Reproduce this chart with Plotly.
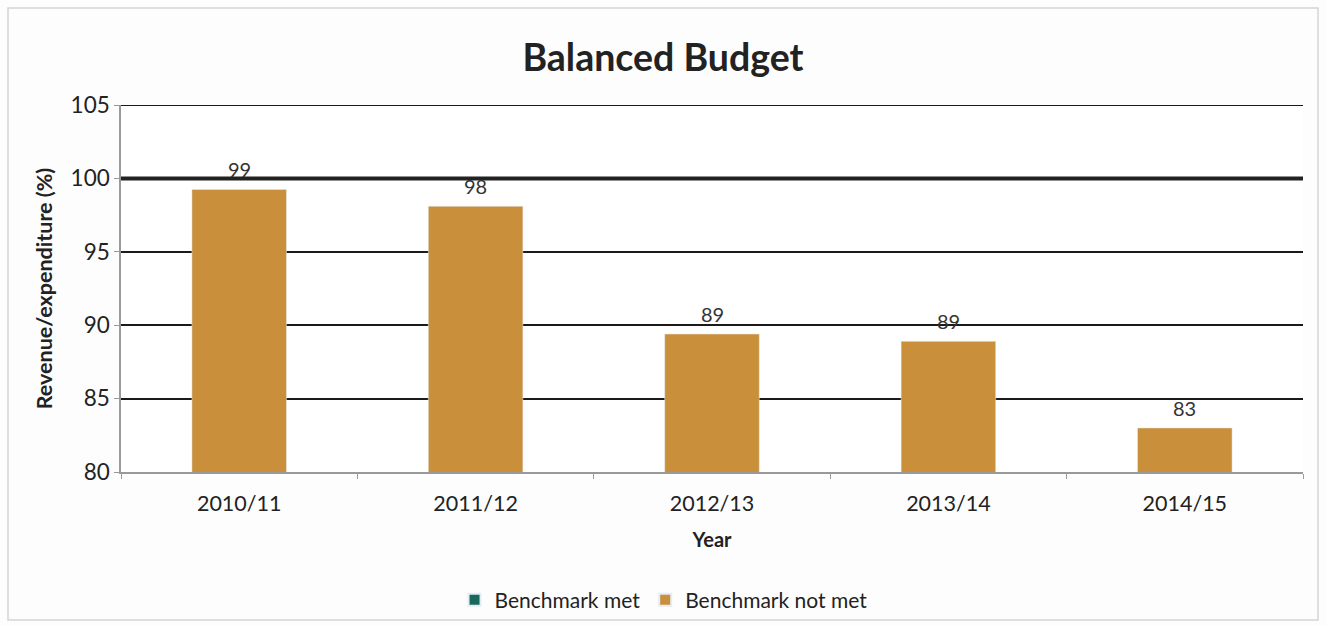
import plotly.graph_objects as go

# Revenue as a share of expenditure, by financial year
years = ["2010/11", "2011/12", "2012/13", "2013/14", "2014/15"]
ratio_pct = [99.25, 98.1, 89.4, 88.9, 83.0]
met_pct = [None, None, None, None, None]  # no year reached the benchmark

BENCHMARK = 100
Y_RANGE = [80, 105]
Y_TICKS = [80, 85, 90, 95, 100, 105]

GOLD = "#c98f3b"
TEAL = "#17695d"
FONT = "Lato"
INK = "#222222"

fig = go.Figure()

fig.add_trace(go.Bar(
    x=years, y=met_pct, name="Benchmark met",
    marker=dict(color=TEAL), width=0.4, showlegend=True,
))
fig.add_trace(go.Bar(
    x=years, y=ratio_pct, name="Benchmark not met",
    marker=dict(color=GOLD), width=0.4,
))

# value labels, rounded, above each bar
for yr, v in zip(years, ratio_pct):
    fig.add_annotation(
        x=yr, y=v, text=f"{v:.0f}", showarrow=False,
        yanchor="bottom", yshift=6,
        font=dict(family=FONT, size=20, color="#333333"),
    )

# top border line of the grid and heavy benchmark line at 100%
fig.add_shape(
    type="line", xref="paper", x0=0, x1=1, yref="y", y0=Y_RANGE[1], y1=Y_RANGE[1],
    line=dict(color="#1a1a1a", width=2), layer="above",
)
fig.add_shape(
    type="line", xref="paper", x0=0, x1=1, yref="y", y0=BENCHMARK, y1=BENCHMARK,
    line=dict(color="#222222", width=4), layer="above",
)

# light frame round the whole chart
fig.add_shape(
    type="rect", xref="paper", yref="paper",
    x0=-0.0956, x1=1.0127, y0=-0.403, y1=1.264,
    line=dict(color="#d4d4d4", width=1.5),
)

fig.update_layout(
    width=1326, height=626,
    margin=dict(l=121, r=23, t=105, b=154, autoexpand=False),
    paper_bgcolor="#fdfdfd", plot_bgcolor="#ffffff",
    barmode="overlay",
    title=dict(
        text="<b>Balanced Budget</b>", x=0.5, xanchor="center",
        y=0.907, yanchor="middle",
        font=dict(family=FONT, size=37.5, color=INK),
    ),
    font=dict(family=FONT, size=20, color=INK),
    legend=dict(
        orientation="h", x=0.459, xanchor="center", y=-0.349, yanchor="middle",
        font=dict(family=FONT, size=21, color=INK),
        bgcolor="rgba(0,0,0,0)",
        itemsizing="constant", traceorder="normal",
    ),
    showlegend=True,
)

fig.update_xaxes(
    type="category", tickson="boundaries", automargin=False,
    ticks="outside", ticklen=5, tickcolor="#9a9a9a",
    ticklabelstandoff=11,
    showline=True, linecolor="#9a9a9a", linewidth=1.5,
    showgrid=False,
    tickfont=dict(family=FONT, size=21.5, color=INK),
    title=dict(text="<b>Year</b>", font=dict(family=FONT, size=20, color=INK), standoff=18),
)
fig.update_yaxes(
    range=Y_RANGE, tickvals=Y_TICKS, automargin=False,
    ticks="outside", ticklen=5, tickcolor="#9a9a9a",
    showline=True, linecolor="#9a9a9a", linewidth=1.5,
    showgrid=True, gridcolor="#1a1a1a", gridwidth=2,
    zeroline=False,
    tickfont=dict(family=FONT, size=22.5, color=INK),
    title=dict(text="<b>Revenue/expenditure (%)</b>", font=dict(family=FONT, size=21.5, color=INK), standoff=12),
)

fig.write_html("out.html")
